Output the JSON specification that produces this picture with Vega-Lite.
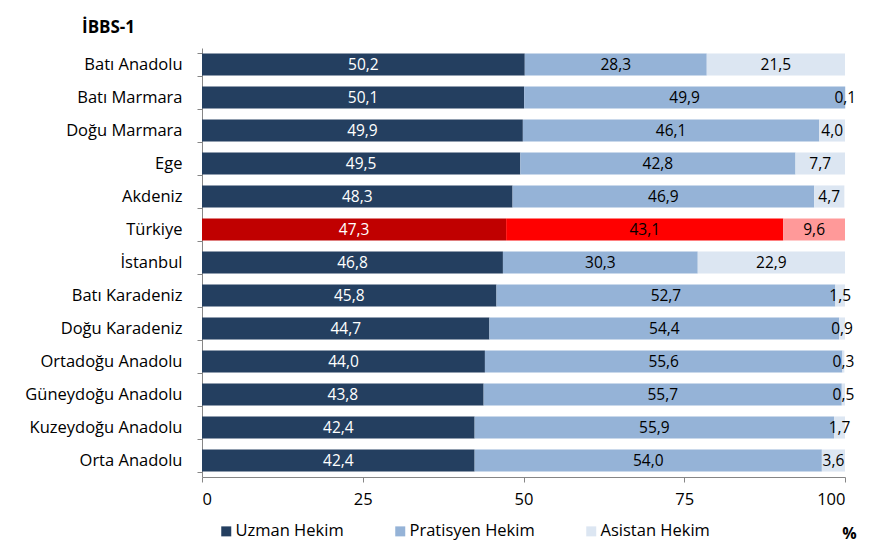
{
  "$schema": "https://vega.github.io/schema/vega-lite/v6.json",
  "width": 643,
  "height": 429,
  "autosize": "none",
  "padding": {"left": 202, "top": 48, "right": 38, "bottom": 79},
  "background": "white",
  "config": {
    "view": {"stroke": null},
    "font": "Open Sans",
    "locale": {"number": {"decimal": ",", "thousands": ".", "grouping": [3], "currency": ["", " TL"]}}
  },
  "title": {"text": "İBBS-1", "anchor": "start", "frame": "group", "dx": -120, "offset": 3, "fontSize": 17, "fontWeight": "bold", "font": "Open Sans", "color": "black"},
  "data": {"values": [
    {"bolge": "Batı Anadolu", "tip": "Uzman Hekim", "deger": 50.2},
    {"bolge": "Batı Anadolu", "tip": "Pratisyen Hekim", "deger": 28.3},
    {"bolge": "Batı Anadolu", "tip": "Asistan Hekim", "deger": 21.5},
    {"bolge": "Batı Marmara", "tip": "Uzman Hekim", "deger": 50.1},
    {"bolge": "Batı Marmara", "tip": "Pratisyen Hekim", "deger": 49.9},
    {"bolge": "Batı Marmara", "tip": "Asistan Hekim", "deger": 0.1},
    {"bolge": "Doğu Marmara", "tip": "Uzman Hekim", "deger": 49.9},
    {"bolge": "Doğu Marmara", "tip": "Pratisyen Hekim", "deger": 46.1},
    {"bolge": "Doğu Marmara", "tip": "Asistan Hekim", "deger": 4.0},
    {"bolge": "Ege", "tip": "Uzman Hekim", "deger": 49.5},
    {"bolge": "Ege", "tip": "Pratisyen Hekim", "deger": 42.8},
    {"bolge": "Ege", "tip": "Asistan Hekim", "deger": 7.7},
    {"bolge": "Akdeniz", "tip": "Uzman Hekim", "deger": 48.3},
    {"bolge": "Akdeniz", "tip": "Pratisyen Hekim", "deger": 46.9},
    {"bolge": "Akdeniz", "tip": "Asistan Hekim", "deger": 4.7},
    {"bolge": "Türkiye", "tip": "Uzman Hekim", "deger": 47.3},
    {"bolge": "Türkiye", "tip": "Pratisyen Hekim", "deger": 43.1},
    {"bolge": "Türkiye", "tip": "Asistan Hekim", "deger": 9.6},
    {"bolge": "İstanbul", "tip": "Uzman Hekim", "deger": 46.8},
    {"bolge": "İstanbul", "tip": "Pratisyen Hekim", "deger": 30.3},
    {"bolge": "İstanbul", "tip": "Asistan Hekim", "deger": 22.9},
    {"bolge": "Batı Karadeniz", "tip": "Uzman Hekim", "deger": 45.8},
    {"bolge": "Batı Karadeniz", "tip": "Pratisyen Hekim", "deger": 52.7},
    {"bolge": "Batı Karadeniz", "tip": "Asistan Hekim", "deger": 1.5},
    {"bolge": "Doğu Karadeniz", "tip": "Uzman Hekim", "deger": 44.7},
    {"bolge": "Doğu Karadeniz", "tip": "Pratisyen Hekim", "deger": 54.4},
    {"bolge": "Doğu Karadeniz", "tip": "Asistan Hekim", "deger": 0.9},
    {"bolge": "Ortadoğu Anadolu", "tip": "Uzman Hekim", "deger": 44.0},
    {"bolge": "Ortadoğu Anadolu", "tip": "Pratisyen Hekim", "deger": 55.6},
    {"bolge": "Ortadoğu Anadolu", "tip": "Asistan Hekim", "deger": 0.3},
    {"bolge": "Güneydoğu Anadolu", "tip": "Uzman Hekim", "deger": 43.8},
    {"bolge": "Güneydoğu Anadolu", "tip": "Pratisyen Hekim", "deger": 55.7},
    {"bolge": "Güneydoğu Anadolu", "tip": "Asistan Hekim", "deger": 0.5},
    {"bolge": "Kuzeydoğu Anadolu", "tip": "Uzman Hekim", "deger": 42.4},
    {"bolge": "Kuzeydoğu Anadolu", "tip": "Pratisyen Hekim", "deger": 55.9},
    {"bolge": "Kuzeydoğu Anadolu", "tip": "Asistan Hekim", "deger": 1.7},
    {"bolge": "Orta Anadolu", "tip": "Uzman Hekim", "deger": 42.4},
    {"bolge": "Orta Anadolu", "tip": "Pratisyen Hekim", "deger": 54.0},
    {"bolge": "Orta Anadolu", "tip": "Asistan Hekim", "deger": 3.6}
  ]},
  "transform": [
    {"stack": "deger", "groupby": ["bolge"], "sort": [{"field": "tip", "order": "descending"}], "as": ["v0", "v1"]}
  ],
  "encoding": {
    "y": {
      "field": "bolge", "type": "nominal",
      "scale": {"domain": ["Batı Anadolu", "Batı Marmara", "Doğu Marmara", "Ege", "Akdeniz", "Türkiye", "İstanbul", "Batı Karadeniz", "Doğu Karadeniz", "Ortadoğu Anadolu", "Güneydoğu Anadolu", "Kuzeydoğu Anadolu", "Orta Anadolu"], "paddingInner": 0.33, "paddingOuter": 0.165},
      "axis": {"title": null, "tickBand": "extent", "domainColor": "#868686", "tickColor": "#868686", "tickSize": 5, "labelPadding": 15, "labelFontSize": 16.5, "labelFont": "Open Sans", "labelColor": "black"}
    }
  },
  "layer": [
    {
      "transform": [{"filter": "datum.bolge !== 'Türkiye'"}],
      "mark": {"type": "bar"},
      "encoding": {
        "x": {"field": "v0", "type": "quantitative", "scale": {"domain": [0, 100]},
          "axis": {"values": [0, 25, 50, 75, 100], "grid": false, "domainColor": "#868686", "tickColor": "#868686", "tickSize": 5, "labelPadding": 9, "labelFontSize": 16.5, "labelFont": "Open Sans", "labelColor": "black",
            "title": "%", "titleX": 647, "titleY": 56, "titleAlign": "center", "titleBaseline": "middle", "titleFontWeight": "bold", "titleFontSize": 16, "titleFont": "Open Sans", "titleColor": "black"}},
        "x2": {"field": "v1"},
        "color": {"field": "tip", "type": "nominal",
          "scale": {"domain": ["Uzman Hekim", "Pratisyen Hekim", "Asistan Hekim"], "range": ["#243F60", "#95B3D7", "#DCE6F2"]},
          "legend": {"title": null, "orient": "none", "legendX": 16, "legendY": 475, "direction": "horizontal", "columns": 3, "columnPadding": 48, "padding": 0,
            "symbolType": "square", "symbolSize": 100, "symbolStrokeWidth": 0, "labelFontSize": 16.5, "labelFont": "Open Sans", "labelColor": "black", "labelOffset": 1}}
      }
    },
    {
      "transform": [{"filter": "datum.bolge === 'Türkiye'"}],
      "mark": {"type": "bar"},
      "encoding": {
        "x": {"field": "v0", "type": "quantitative"},
        "x2": {"field": "v1"},
        "color": {"field": "tip", "type": "nominal",
          "scale": {"domain": ["Uzman Hekim", "Pratisyen Hekim", "Asistan Hekim"], "range": ["#C00000", "#FF0000", "#FF9999"]},
          "legend": null}
      }
    },
    {
      "transform": [
        {"fold": ["v0", "v1"], "as": ["uc", "konum"]},
        {"aggregate": [{"op": "mean", "field": "konum", "as": "orta"}], "groupby": ["bolge", "tip", "deger"]}
      ],
      "mark": {"type": "text", "align": "center", "baseline": "middle", "fontSize": 15.5, "font": "Open Sans"},
      "encoding": {
        "x": {"field": "orta", "type": "quantitative"},
        "text": {"field": "deger", "type": "quantitative", "format": ".1f"},
        "color": {"condition": {"test": "datum.tip === 'Uzman Hekim'", "value": "white"}, "value": "black"}
      }
    }
  ],
  "resolve": {"scale": {"color": "independent"}}
}
